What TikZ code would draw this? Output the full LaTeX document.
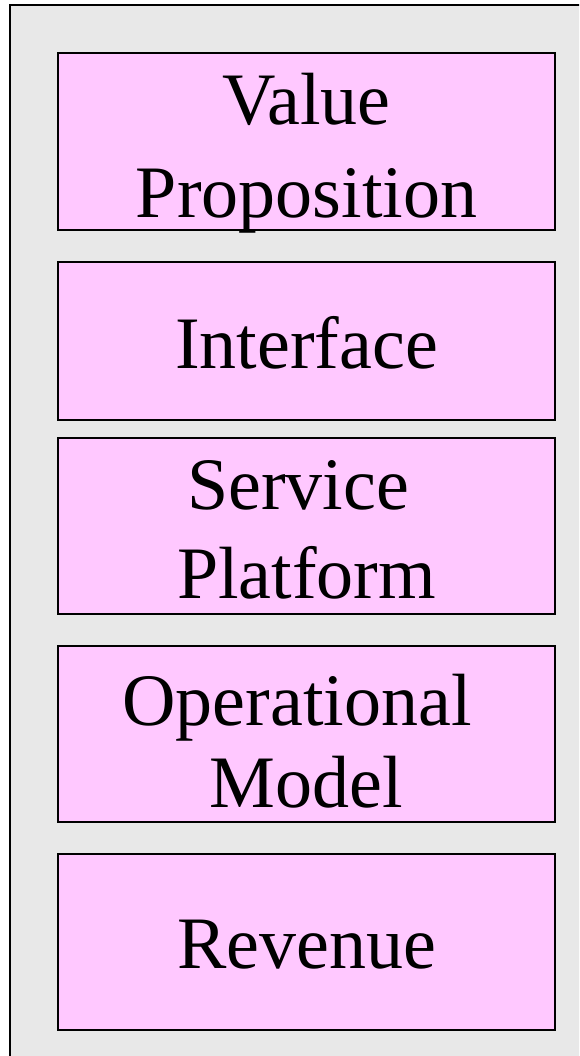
\documentclass[tikz,border=0pt]{standalone}
\usepackage{fontspec}
\setmainfont{Liberation Serif}
\definecolor{panelgray}{HTML}{E8E8E8}
\definecolor{layerpink}{HTML}{FFC8FF}
\begin{document}
\begin{tikzpicture}[x=1pt,y=-1pt,
  layer/.style={draw=black, line width=1.2pt, fill=layerpink,
    minimum width=497pt, inner sep=0pt},
  lbl/.style={anchor=base, inner sep=0pt, text=black,
    font=\fontsize{74}{90}\selectfont}]
\useasboundingbox (0,0) rectangle (579,1056);
\clip (0,0) rectangle (579,1056);
% grey panel behind the layer stack
\draw[fill=panelgray, line width=1.2pt] (10,5) rectangle (620,1100);
% the five layers
\node[layer, minimum height=177pt] (value)   at (306.5,141.5) {};
\node[layer, minimum height=158pt] (iface)   at (306.5,341)   {};
\node[layer, minimum height=176pt] (service) at (306.5,526)   {};
\node[layer, minimum height=176pt] (oper)    at (306.5,734)   {};
\node[layer, minimum height=176pt] (revenue) at (306.5,942)   {};
% layer captions
\node[lbl] (value1)   at (306.5,125) {Value};
\node[lbl] (value2)   at (306.5,218) {Proposition};
\node[lbl] (iface1)   at (306.5,368) {Interface};
\node[lbl] (service1) at (298,509)   {Service};
\node[lbl] (service2) at (306.5,598) {Platform};
\node[lbl] (oper1)    at (297,725)   {Operational};
\node[lbl] (oper2)    at (306.5,807) {Model};
\node[lbl] (revenue1) at (306.5,968) {Revenue};
\end{tikzpicture}
\end{document}
